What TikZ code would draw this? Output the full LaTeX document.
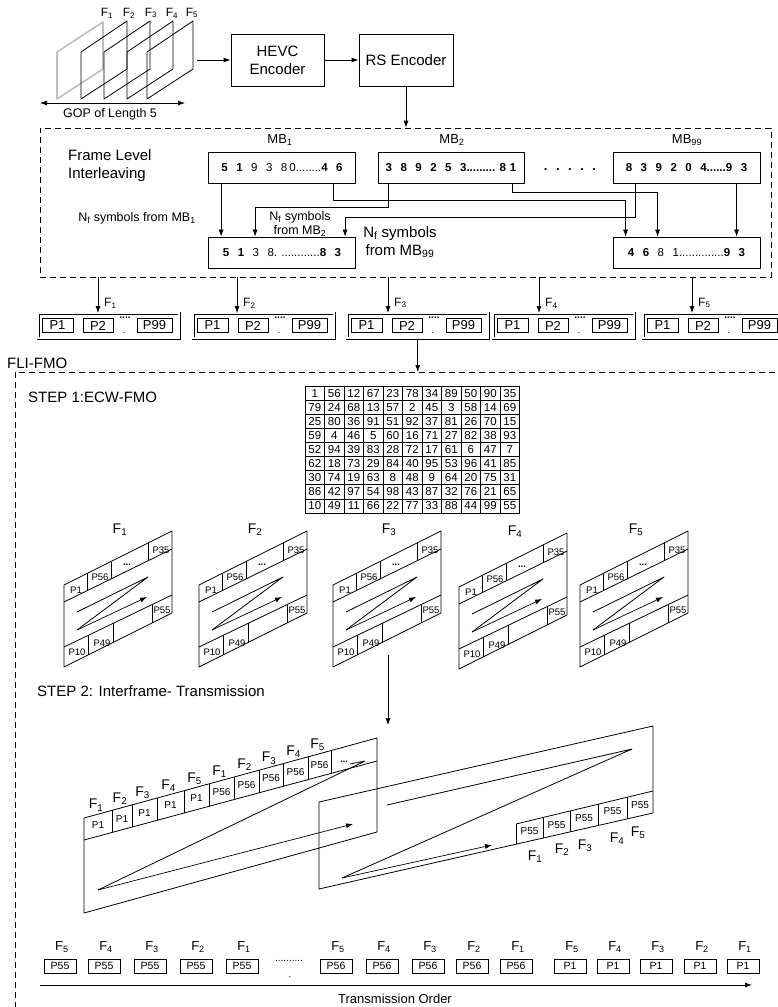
\documentclass[tikz,border=0pt]{standalone}
\usepackage{fontspec}
\setmainfont{Liberation Sans}
\usetikzlibrary{
  arrows.meta,
  positioning,
  calc
}
\definecolor{framegray}{RGB}{190, 190, 190}
\newcommand{\symgap}{\hspace{8.5pt}}
\tikzset{
bigtext/.style={
  font=\fontsize{15}{18}\selectfont,
  inner sep=0pt
},
framelabel/.style={
  font=\fontsize{12}{14}\selectfont,
  inner sep=0pt
},
smalltext/.style={
  font=\fontsize{12.5}{14}\selectfont,
  align=center,
  inner sep=0pt
},
encblock/.style={
  draw,
  line width=0.8pt,
  minimum width=93pt,
  minimum height=52pt,
  inner sep=0pt,
  align=center,
  font=\fontsize{15}{18}\selectfont
},
mbblock/.style={
  draw,
  line width=0.8pt,
  minimum width=147pt,
  minimum height=31pt,
  inner sep=0pt,
  font=\fontsize{11.5}{13}\selectfont
},
mblabel/.style={
  font=\fontsize{13}{15}\selectfont,
  inner sep=0pt
},
dashedframe/.style={
  draw,
  dashed,
  dash pattern=on 6pt off 4pt,
  line width=0.7pt,
  inner sep=0pt
},
pktgroup/.style={
  draw,
  double,
  double distance=1.6pt,
  line width=0.5pt,
  minimum width=141pt,
  minimum height=25pt,
  inner sep=0pt
},
pktbox/.style={
  draw,
  line width=0.7pt,
  minimum height=14pt,
  inner sep=0pt,
  font=\fontsize{13}{14}\selectfont
},
ecwcell/.style={
  draw,
  line width=0.5pt,
  minimum width=19.5pt,
  minimum height=14.1pt,
  inner sep=0pt,
  font=\fontsize{11.5}{12}\selectfont
},
slicetext/.style={
  font=\fontsize{9.5}{10}\selectfont,
  inner sep=0pt
},
steplabel/.style={
  font=\fontsize{14}{16}\selectfont,
  inner sep=0pt
},
steptwop/.style={
  font=\fontsize{10}{11}\selectfont,
  inner sep=0pt
},
txbox/.style={
  draw,
  line width=0.7pt,
  minimum width=32pt,
  minimum height=14pt,
  inner sep=0pt,
  font=\fontsize{10.5}{12}\selectfont
},
txlabel/.style={
  font=\fontsize{13}{15}\selectfont,
  inner sep=0pt
},
outline/.style={
  line width=0.8pt,
  line join=round
},
arrow/.style={
  -{Latex[length=7pt,width=5pt]},
  line width=0.7pt
},
dblarrow/.style={
  {Latex[length=7pt,width=5pt]}-{Latex[length=7pt,width=5pt]},
  line width=0.7pt
}
}

\begin{document}
\begin{tikzpicture}[x=1pt,y=-1pt]
\useasboundingbox (0,0) rectangle (778,1007);

% GOP of five frames
\draw[outline, draw=framegray, line width=1.6pt] (57,52) -- (103,22) -- (103,69) -- (57,99) -- cycle;
\foreach \fx in {81,104,127,147}
  \draw[outline] (\fx,52) -- ({\fx+46},21) -- ({\fx+46},69) -- (\fx,99) -- cycle;
\foreach \lx [count=\i] in {107,129,151,172,192}
  \node[framelabel] (gop\i) at (\lx,13) {F\textsubscript{\i}};
\coordinate (gopL) at (40,103);
\coordinate (gopR) at (185,103);
\draw[dblarrow] (gopL) -- (gopR);
\node[framelabel, font=\fontsize{12.5}{14}\selectfont] (goptext) at (110,114) {GOP of Length 5};

% encoders
\coordinate (stackout) at (197,60);
\node[encblock] (hevc) at (277.5,60) {HEVC\\Encoder};
\node[encblock, minimum width=94pt] (rs) at (406,60) {RS Encoder};
\draw[arrow] (stackout) -- (hevc);
\draw[arrow] (hevc) -- (rs);

% frame level interleaving
\node[dashedframe, minimum width=731pt, minimum height=149pt] (fli) at (405.5,202.5) {};
\draw[arrow] (rs.south) -- (rs.south |- fli.north);
\node[bigtext, align=left, anchor=west] (flitext) at (68,166) {Frame Level\\Interleaving};

\node[mbblock] (mbA) at (282,167.5) {\textbf{5\symgap 1}\symgap 9\symgap 3\symgap 8\hspace{2pt}0........\textbf{4\symgap 6}};
\node[mbblock, minimum width=146pt] (mbB) at (451,167.5) {\textbf{3\symgap 8\symgap 9\symgap 2\symgap 5\symgap 3......... 8\hspace{4pt}1}};
\node[mbblock] (mbC) at (686.5,167.5) {\textbf{8\symgap 3\symgap 9\symgap 2\symgap 0\symgap 4......9\symgap 3}};
\node[mblabel] (mbAlab) at (280,140) {MB\textsubscript{1}};
\node[mblabel] (mbBlab) at (452,140) {MB\textsubscript{2}};
\node[mblabel] (mbClab) at (687,140) {MB\textsubscript{99}};
\node[mblabel, font=\bfseries\fontsize{13}{15}\selectfont] (mbdots) at (570,170) {.\symgap.\symgap.\symgap.\symgap.};

\node[mbblock] (outA) at (282,252.5) {\textbf{5\symgap 1}\symgap 3\symgap 8. ............\textbf{8\symgap 3}};
\node[mbblock] (outB) at (686.5,252.5) {\textbf{4\symgap 6}\symgap 8\symgap 1..............\textbf{9\symgap 3}};

\coordinate (a1) at ($(mbA.south west)+(13,0)$);
\coordinate (a2) at ($(mbA.south west)+(125,0)$);
\coordinate (b1) at ($(mbB.south west)+(11,0)$);
\coordinate (b2) at ($(mbB.south west)+(135,0)$);
\coordinate (c1) at ($(mbC.south west)+(23,0)$);
\coordinate (c2) at ($(mbC.south west)+(124,0)$);
\coordinate (ta1) at ($(outA.north west)+(13,0)$);
\coordinate (ta2) at ($(outA.north west)+(47,0)$);
\coordinate (ta3) at ($(outA.north west)+(137,0)$);
\coordinate (tb1) at ($(outB.north west)+(13,0)$);
\coordinate (tb2) at ($(outB.north west)+(45,0)$);
\coordinate (tb3) at ($(outB.north west)+(124,0)$);
\draw[arrow] (a1) -- (ta1);
\draw[arrow] (a2) -- ++(0,17) -| (tb1);
\draw[arrow] (b1) -- ++(0,24) -| (ta2);
\draw[arrow] (b2) -- ++(0,9) -| (tb2);
\draw[arrow] (c1) -- ++(0,34) -| (ta3);
\draw[arrow] (c2) -- (tb3);

\node[smalltext] (nfA) at (137,218) {N\textsubscript{f} symbols from MB\textsubscript{1}};
\node[smalltext] (nfB) at (300,224) {N\textsubscript{f} symbols\\from MB\textsubscript{2}};
\node[bigtext, align=center] (nfC) at (400,242) {N\textsubscript{f} symbols\\from MB\textsubscript{99}};

% packets of the five frames
\foreach \gx/\ax [count=\i] in {38/98,193/237,347/388,493/539,643/692} {
  \node[pktgroup, anchor=north west] (pg\i) at (\gx,313) {};
  \node[pktbox, minimum width=31pt] (pa\i) at ({\gx+19.5},325.5) {P1};
  \node[pktbox, minimum width=30pt] (pb\i) at ({\gx+60},325.5) {P2};
  \node[pktbox, minimum width=35pt] (pc\i) at ({\gx+116.5},325.5) {P99};
  \node[slicetext, font=\bfseries\fontsize{10}{11}\selectfont] (pd\i) at ({\gx+87},318) {....};
  \node[slicetext] (pe\i) at ({\gx+86},333) {.};
  \coordinate (fa\i) at (\ax,277);
  \draw[arrow] (fa\i) -- (fa\i |- pg\i.north);
  \node[framelabel, anchor=west] (pf\i) at ({\ax+6},303) {F\textsubscript{\i}};
}

% FLI-FMO
\node[dashedframe, minimum width=790pt, minimum height=660pt, anchor=north west] (fmo) at (15,372) {};
\draw[arrow] (pg3.south) -- (pg3.south |- fmo.north);
\node[bigtext, anchor=west] (fmotitle) at (7,363) {FLI-FMO};
\node[bigtext, anchor=west] (stepone) at (28,397) {STEP 1:ECW-FMO};

% explicit chessboard map
\foreach \row [count=\ri] in {
  {1,56,12,67,23,78,34,89,50,90,35},
  {79,24,68,13,57,2,45,3,58,14,69},
  {25,80,36,91,51,92,37,81,26,70,15},
  {59,4,46,5,60,16,71,27,82,38,93},
  {52,94,39,83,28,72,17,61,6,47,7},
  {62,18,73,29,84,40,95,53,96,41,85},
  {30,74,19,63,8,48,9,64,20,75,31},
  {86,42,97,54,98,43,87,32,76,21,65},
  {10,49,11,66,22,77,33,88,44,99,55}}
  \foreach \v [count=\ci] in \row
    \node[ecwcell] (ecw-\ri-\ci) at ({305+19.5*(\ci-0.5)},{386+14.1*(\ri-0.5)}) {\v};

% slices of each frame
\foreach \fx/\fy [count=\i] in {64/585,199/585,333/585,459/587,580/585} {
  \begin{scope}[shift={(\fx,\fy)}]
    \draw[outline] (0,0) -- (108,-54) -- (108,28) -- (0,82) -- cycle;
    \draw[outline] (0,17) -- (108,-36);
    \draw[outline] (0,62) -- (108,10);
    \foreach \dx in {23,47,84}
      \draw[outline] (\dx,{-0.5*\dx}) -- (\dx,{17-0.4907*\dx});
    \foreach \dx in {24,49,88}
      \draw[outline] (\dx,{62-0.4815*\dx}) -- (\dx,{82-0.5*\dx});
    \draw[outline] (13,27) -- (84,-8) -- (13,45);
    \draw[arrow] (13,45) -- (83,12);
    \node[slicetext] (fr\i-a) at (12,5) {P1};
    \node[slicetext] (fr\i-b) at (36,-8) {P56};
    \node[slicetext, font=\bfseries\fontsize{9.5}{10}\selectfont] (fr\i-c) at (63,-20) {...};
    \node[slicetext] (fr\i-d) at (97,-35) {P35};
    \node[slicetext] (fr\i-e) at (13,67) {P10};
    \node[slicetext] (fr\i-f) at (38,58) {P49};
    \node[slicetext] (fr\i-g) at (98,25) {P55};
    \node[steplabel] (fr\i) at (56,-55) {F\textsubscript{\i}};
  \end{scope}
}

% interframe transmission
\coordinate (stwoA) at (388,655);
\coordinate (stwoB) at (388,725);
\draw[arrow] (stwoA) -- (stwoB);
\node[bigtext, anchor=west] (steptwo) at (37,691) {STEP 2: Interframe- Transmission};

\coordinate (aTL) at (84,818);
\coordinate (aTR) at (377,738);
\coordinate (aBR) at (377,832);
\coordinate (aBL) at (84,913);
\draw[outline] (aTL) -- (aTR) -- (aBR) -- (aBL) -- cycle;
\draw[outline] (84,840) -- (377,761);
\foreach \xa/\xb/\pt/\fk [count=\k] in {84/112/P1/1,112/132/P1/2,132/157/P1/3,157/184/P1/4,184/209/P1/5,209/234/P56/1,234/259/P56/2,259/283/P56/3,283/308/P56/4,308/331/P56/5} {
  \pgfmathsetmacro{\cx}{(\xa+\xb)/2}
  \pgfmathsetmacro{\cy}{829-0.2715*(\cx-84)}
  \node[steptwop] (acell\k) at (\cx,\cy) {\pt};
  \node[steplabel] (aflab\k) at ({\cx-2},{\cy-20}) {F\textsubscript{\fk}};
  \draw[outline] (\xb,{818-0.273*(\xb-84)}) -- (\xb,{840-0.2696*(\xb-84)});
}
\node[steptwop, font=\bfseries\fontsize{9}{10}\selectfont] (acell11) at (344,762) {...};
\draw[outline] (350,764) -- (365,761) -- (98,890);
\draw[arrow] (98,890) -- (353,824);

\coordinate (bTL) at (319,802);
\coordinate (bTR) at (653,726);
\coordinate (bBR) at (653,813);
\coordinate (bBL) at (319,889);
\draw[outline] (bTL) -- (bTR) -- (bBR) -- (bBL) -- cycle;
\draw[outline] (516,824) -- (653,791);
\foreach \xa/\xb [count=\k] in {516/543,543/570,570/598,598/627,627/653} {
  \pgfmathsetmacro{\cx}{(\xa+\xb)/2}
  \pgfmathsetmacro{\cy}{(824-0.2409*(\cx-516)+889-0.2275*(\cx-319))/2}
  \node[steptwop] (bcell\k) at (\cx,\cy) {P55};
  \draw[outline] (\xa,{824-0.2409*(\xa-516)}) -- (\xa,{889-0.2275*(\xa-319)});
}
\foreach \lx/\ly [count=\k] in {535/857,562/850,585/846,617/839,638/833}
  \node[steplabel] (bflab\k) at (\lx,\ly) {F\textsubscript{\k}};
\draw[outline] (387,805) -- (632,749) -- (342,878);
\draw[arrow] (342,878) -- (492,845);

% transmission order
\foreach \bx/\bt/\fk [count=\k] in {60/P55/5,104/P55/4,150/P55/3,196/P55/2,242/P55/1,336/P56/5,382/P56/4,428/P56/3,472/P56/2,516/P56/1,570/P1/5,613/P1/4,656/P1/3,700/P1/2,743/P1/1} {
  \node[txbox] (tx\k) at (\bx,966) {\bt};
  \node[txlabel] (txl\k) at ({\bx+2},947) {F\textsubscript{\fk}};
}
\node[slicetext, font=\fontsize{10}{11}\selectfont] (txdots) at (289,961) {..........};
\node[slicetext] (txdot) at (290,977) {.};
\coordinate (tstart) at (40,985);
\coordinate (tend) at (752,985);
\draw[arrow] (tstart) -- (tend);
\node[txlabel] (tord) at (395,999) {Transmission Order};
\end{tikzpicture}
\end{document}
